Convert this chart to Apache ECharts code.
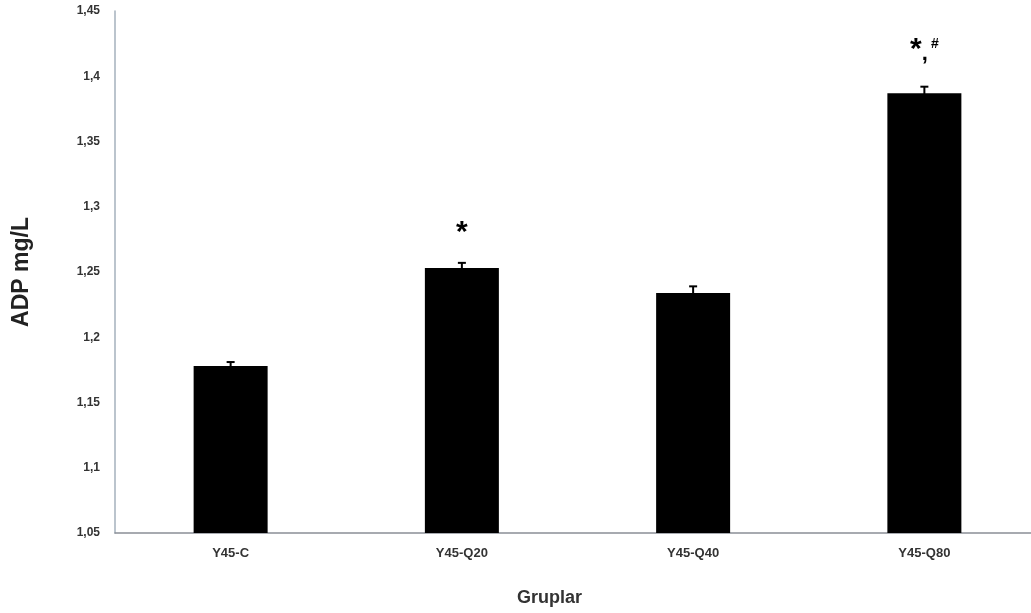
<!DOCTYPE html>
<html><head><meta charset="utf-8">
<script src="https://cdn.jsdelivr.net/npm/echarts@6/dist/echarts.min.js"></script>
<style>html,body{margin:0;padding:0;background:#fff}#c{width:1031px;height:613px}</style>
</head><body><div id="c"></div>
<script>
const categories = ['Y45-C', 'Y45-Q20', 'Y45-Q40', 'Y45-Q80'];
const values = [1.178, 1.253, 1.234, 1.387];
const errors = [0.003, 0.004, 0.005, 0.005];
const marks = ['', 'star', '', 'starHash'];
const yTicks = { min: 1.05, max: 1.45, interval: 0.05 };

const chart = echarts.init(document.getElementById('c'));
const FONT = 'Liberation Sans, Arial, sans-serif';
chart.setOption({
  animation: false,
  grid: { left: 115, right: -9, top: 11, bottom: 80, containLabel: false, outerBoundsMode: 'none' },
  xAxis: {
    type: 'category', data: categories,
    axisLine: { lineStyle: { color: '#8a8f96', width: 1.5 } },
    axisTick: { show: false },
    axisLabel: { color: '#333', fontFamily: FONT, fontWeight: 'bold', fontSize: 13, margin: 14 },
    name: 'Gruplar', nameLocation: 'middle', nameGap: 56,
    nameTextStyle: { color: '#333', fontFamily: FONT, fontWeight: 'bold', fontSize: 18, padding: [0, 56, 0, 0] }
  },
  yAxis: {
    type: 'value', min: yTicks.min, max: yTicks.max, interval: yTicks.interval,
    splitLine: { show: false },
    axisLine: { show: true, lineStyle: { color: '#a4b0bc', width: 1.5 } },
    axisTick: { show: false },
    axisLabel: { color: '#333', fontFamily: FONT, fontWeight: 'bold', fontSize: 12, margin: 15,
      formatter: v => String(Math.round(v * 100) / 100).replace('.', ',') },
    name: 'ADP mg/L', nameLocation: 'middle', nameGap: 82, nameRotate: 90,
    nameTextStyle: { color: '#222', fontFamily: FONT, fontWeight: 'bold', fontSize: 23 }
  },
  series: [
    {
      type: 'bar',
      data: values.map((v, i) => ({ value: v, label: { distance: marks[i] === 'star' ? 20 : 28 } })),
      barWidth: '32%',
      itemStyle: { color: '#000' },
      label: {
        show: true, position: 'top',
        formatter: p => marks[p.dataIndex] === 'star' ? '{s|*}' : (marks[p.dataIndex] === 'starHash' ? '{s|*}{c|,}{h|#}' : ''),
        rich: {
          s: { fontFamily: FONT, fontWeight: 'bold', fontSize: 30, color: '#000', padding: [10, 0, 0, 0] },
          c: { fontFamily: FONT, fontWeight: 'bold', fontSize: 22, color: '#000', padding: [18, 3, 0, 0] },
          h: { fontFamily: FONT, fontWeight: 'bold', fontSize: 14, color: '#000', padding: [0, 0, 2, 0] }
        }
      }
    },
    {
      type: 'custom',
      data: values.map((v, i) => [i, v, errors[i]]),
      renderItem: (params, api) => {
        const x = api.coord([api.value(0), api.value(1)])[0];
        const yTop = api.coord([api.value(0), api.value(1) + api.value(2)])[1];
        const yBot = api.coord([api.value(0), api.value(1) - api.value(2)])[1];
        const style = { stroke: '#000', lineWidth: 2 };
        return { type: 'group', children: [
          { type: 'line', shape: { x1: x, y1: yBot, x2: x, y2: yTop }, style },
          { type: 'line', shape: { x1: x - 4, y1: yTop, x2: x + 4, y2: yTop }, style }
        ] };
      },
      z: 5
    }
  ]
});
</script></body></html>
